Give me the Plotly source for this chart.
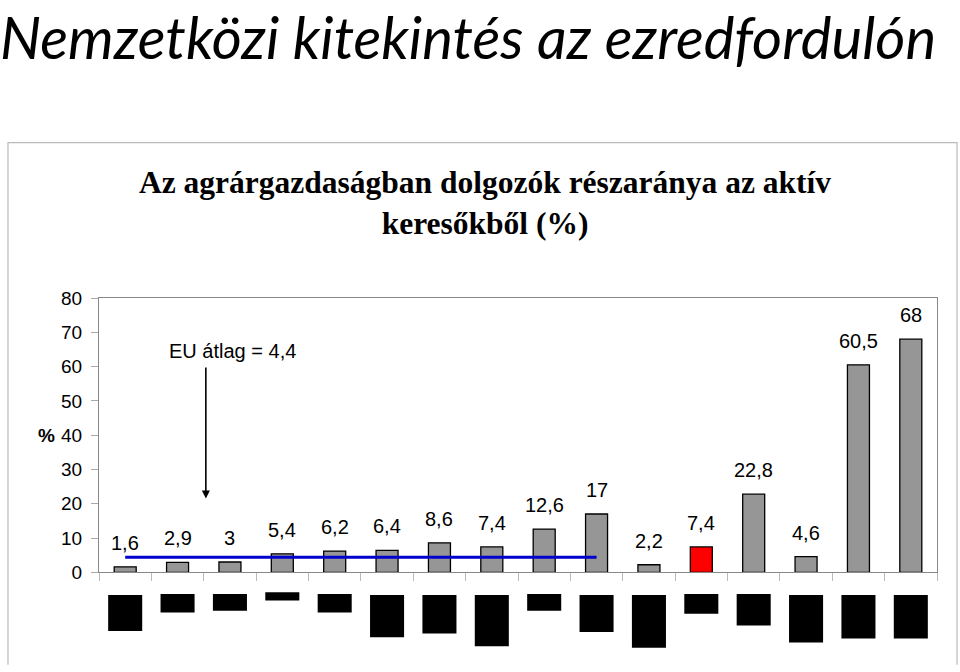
import plotly.graph_objects as go

# 16 országok (zászlóval jelölve az eredetin)
countries = ["O1", "O2", "O3", "O4", "O5", "O6", "O7", "O8",
             "O9", "O10", "O11", "O12", "O13", "O14", "O15", "O16"]
shares = [1.6, 2.9, 3, 5.4, 6.2, 6.4, 8.6, 7.4, 12.6, 17, 2.2, 7.4, 22.8, 4.6, 60.5, 68]
highlight = "O12"  # Magyarország, pirossal
eu_avg = 4.4
eu_members = countries[:10]

# flag placeholders (black boxes under the axis): top offset and height
flag_top = [4, 3, 3, 1.3, 3, 4, 4, 4, 3, 4, 4, 3, 3, 4, 4, 4]
flag_height = [36.7, 18.7, 17, 8.4, 18.7, 43, 39.3, 52.3, 17, 37.7, 53.7, 20, 32, 48.3, 44.3, 44.3]

FONT = "Liberation Sans"
bar_colors = ["#ff0000" if c == highlight else "#969696" for c in countries]


def fmt(v):
    return f"{v:g}".replace(".", ",")


fig = go.Figure()

fig.add_trace(go.Bar(
    x=countries, y=shares, width=0.42,
    marker=dict(color=bar_colors, line=dict(color="black", width=1.3)),
    hoverinfo="x+y", showlegend=False,
))

# EU average line across the member states
fig.add_trace(go.Scatter(
    x=eu_members, y=[eu_avg] * len(eu_members),
    mode="lines", line=dict(color="#0000cc", width=3),
    hoverinfo="skip", showlegend=False,
))

# flags drawn as black blocks in a lower strip
fig.add_trace(go.Bar(
    x=countries, y=[-h for h in flag_height], base=[-t for t in flag_top],
    width=0.65, marker=dict(color="black", line=dict(width=0)),
    xaxis="x2", yaxis="y2", hoverinfo="skip", showlegend=False,
))

annotations = []
for c, v in zip(countries, shares):
    annotations.append(dict(
        x=c, y=v, xref="x", yref="y", text=fmt(v), showarrow=False,
        yshift=24, yanchor="middle", font=dict(family=FONT, size=20, color="black"),
    ))

annotations += [
    dict(x=2.04, y=64.5, xref="x", yref="y", text="EU átlag = " + fmt(eu_avg),
         showarrow=False, font=dict(family=FONT, size=20, color="black")),
    dict(x=1.54, y=21.5, ax=1.54, ay=60.2, xref="x", yref="y", axref="x", ayref="y",
         text="", showarrow=True, arrowhead=2, arrowsize=1, arrowwidth=1.6,
         arrowcolor="black"),
    dict(x=-0.0752, y=40, xref="paper", yref="y", text="<b>%</b>", showarrow=False,
         font=dict(family=FONT, size=19, color="black")),
    dict(x=-0.121, y=1.8487, xref="paper", yref="paper", xanchor="left", yanchor="top",
         text="<i>Nemzetközi kitekintés az ezredfordulón</i>", showarrow=False,
         font=dict(family="Lato", size=58, color="black")),
    dict(x=0.4604, y=1.2703, xref="paper", yref="paper", xanchor="center", yanchor="middle",
         text="<b>Az agrárgazdaságban dolgozók részaránya az aktív<br>keresőkből (%)</b>",
         showarrow=False, font=dict(family="Liberation Serif", size=31.5, color="black")),
]

# outer chart frame: open at the bottom, where it runs off the page
fx0, fx1, fy0, fy1 = -0.1086, 1.0239, -0.0448, 1.4426
frame_path = f"M {fx0},{fy0} L {fx0},{fy1} L {fx1},{fy1} L {fx1},{fy0}"

fig.update_layout(
    width=960, height=672,
    margin=dict(l=99, r=23, t=298, b=17),
    paper_bgcolor="white", plot_bgcolor="white",
    separators=",.",
    annotations=annotations,
    shapes=[dict(type="path", xref="paper", yref="paper", path=frame_path,
                 line=dict(color="#bbbbbb", width=1.2), layer="below")],
    xaxis=dict(
        type="category", domain=[0, 1], anchor="y",
        showline=True, linecolor="#888888", linewidth=1.2, mirror=True,
        ticks="outside", tickson="boundaries", ticklen=8, tickcolor="#bbbbbb",
        showticklabels=False, showgrid=False, zeroline=False,
        range=[-0.5, 15.5],
    ),
    yaxis=dict(
        domain=[0.2185, 1], anchor="x", range=[0, 80], dtick=10,
        showline=True, linecolor="#888888", linewidth=1.2, mirror=True,
        ticks="outside", ticklen=7, tickcolor="#aaaaaa", ticklabelstandoff=5,
        showgrid=False, zeroline=False,
        tickfont=dict(family=FONT, size=19, color="black"),
    ),
    xaxis2=dict(type="category", matches="x", anchor="y2", visible=False),
    yaxis2=dict(domain=[0, 0.165], anchor="x2", range=[-59, 0], visible=False),
)

# drop the browser's default body margin so the figure sits at the page corner
fig.write_html("out.html", config={"displayModeBar": False},
               post_script="document.body.style.margin='0';"
                           "document.documentElement.style.overflow='hidden';")
